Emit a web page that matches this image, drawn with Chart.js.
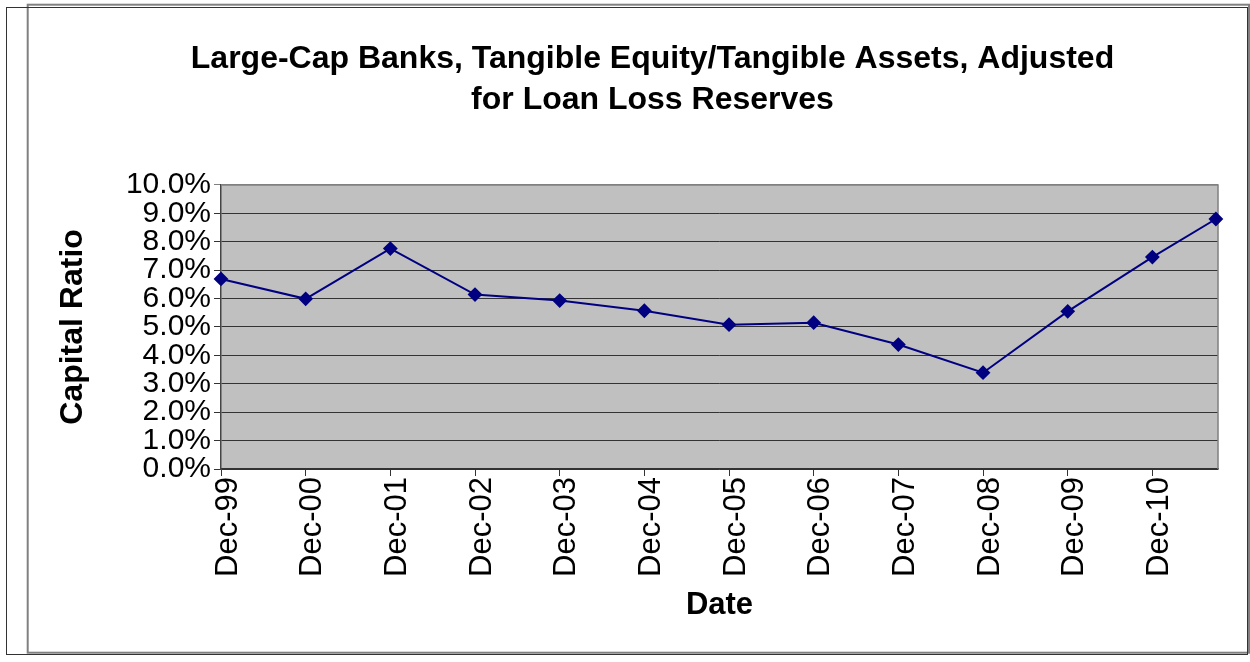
<!DOCTYPE html>
<html>
<head>
<meta charset="utf-8">
<script src="https://cdn.jsdelivr.net/npm/chart.js@4/dist/chart.umd.min.js"></script>
<style>
  html, body { margin: 0; padding: 0; background: #ffffff; }
  #c { display: block; }
</style>
</head>
<body>
<canvas id="c" width="1250" height="662"></canvas>
<script>
// ---- data ----
const chartTitle = ['Large-Cap Banks, Tangible Equity/Tangible Assets, Adjusted', 'for Loan Loss Reserves'];
const xAxisTitle = 'Date';
const yAxisTitle = 'Capital Ratio';
const xTickLabels = ['Dec-99','Dec-00','Dec-01','Dec-02','Dec-03','Dec-04','Dec-05','Dec-06','Dec-07','Dec-08','Dec-09','Dec-10'];
const pointDates = ['1999-12','2000-12','2001-12','2002-12','2003-12','2004-12','2005-12','2006-12','2007-12','2008-12','2009-12','2010-12','2011-09'];
const capitalRatio = [6.69, 5.99, 7.76, 6.14, 5.93, 5.57, 5.08, 5.15, 4.38, 3.39, 5.55, 7.46, 8.80];

function monthIndex(s) { const p = s.split('-').map(Number); return p[0] * 12 + p[1]; }
const baseMonth = monthIndex(pointDates[0]);
const points = pointDates.map((d, i) => ({ x: monthIndex(d) - baseMonth, y: capitalRatio[i] }));

const FONT = "'Liberation Sans', Arial, Helvetica, sans-serif";

const decor = {
  id: 'decor',
  beforeDraw(chart) {
    const ctx = chart.ctx, a = chart.chartArea;
    ctx.save();
    ctx.strokeStyle = '#808080';
    ctx.lineWidth = 2;
    ctx.strokeRect(27.7, 4.7, 1249 - 27.7, 652.7 - 4.7);
    ctx.strokeStyle = '#333333';
    ctx.lineWidth = 1;
    ctx.strokeRect(6.5, 7.5, 1247.5 - 6.5, 654.5 - 7.5);
    ctx.fillStyle = '#c0c0c0';
    ctx.fillRect(a.left, a.top, a.right - a.left, a.bottom - a.top);
    ctx.restore();
  },
  beforeDatasetsDraw(chart) {
    const ctx = chart.ctx, a = chart.chartArea;
    ctx.save();
    ctx.strokeStyle = '#808080';
    ctx.lineWidth = 1.5;
    ctx.beginPath();
    ctx.moveTo(a.left, a.top);
    ctx.lineTo(a.right, a.top);
    ctx.lineTo(a.right, a.bottom);
    ctx.stroke();
    ctx.restore();
  }
};

new Chart(document.getElementById('c'), {
  type: 'line',
  data: {
    datasets: [{
      data: points,
      borderColor: '#000080',
      backgroundColor: '#000080',
      borderWidth: 2,
      pointStyle: 'rectRot',
      pointRadius: 6,
      pointBackgroundColor: '#000080',
      pointBorderColor: '#000080',
      tension: 0,
      clip: false
    }]
  },
  options: {
    responsive: false,
    animation: false,
    devicePixelRatio: 1,
    layout: { padding: { left: 55, right: 0, top: 0, bottom: 0 } },
    plugins: {
      legend: { display: false },
      tooltip: { enabled: false },
      title: {
        display: true,
        text: chartTitle,
        color: '#000',
        font: { family: FONT, size: 32, weight: 'bold', lineHeight: 1.28 },
        padding: { top: 38.4, bottom: 64.6 }
      }
    },
    scales: {
      x: {
        type: 'linear',
        min: 0,
        max: 141.3,
        afterFit(s) { s.height = 193; },
        afterBuildTicks(s) { s.ticks = s.ticks.filter(t => t.value % 12 === 0); },
        ticks: {
          stepSize: 12,
          autoSkip: false,
          minRotation: 90,
          maxRotation: 90,
          padding: 1,
          labelOffset: 7,
          color: '#000',
          font: { family: FONT, size: 31 },
          callback: (v) => xTickLabels[v / 12]
        },
        grid: { drawOnChartArea: false, drawTicks: true, tickLength: 7, color: '#333', lineWidth: 1 },
        border: { display: true, color: '#333', width: 1.5 },
        title: {
          display: true,
          text: xAxisTitle,
          color: '#000',
          font: { family: FONT, size: 31, weight: 'bold', lineHeight: 1.2 },
          padding: { top: 0, bottom: 38.4 }
        }
      },
      y: {
        min: 0,
        max: 10,
        afterFit(s) { s.width = 221 - 55; },
        ticks: {
          stepSize: 1,
          autoSkip: false,
          padding: 3,
          color: '#000',
          font: { family: FONT, size: 30 },
          callback: (v) => v.toFixed(1) + '%'
        },
        grid: {
          drawOnChartArea: true,
          drawTicks: true,
          tickLength: 7,
          lineWidth: 1,
          color: (c) => (c.tick && c.tick.value === 10) ? '#808080' : '#333'
        },
        border: { display: true, color: '#444', width: 1.5 },
        title: {
          display: true,
          text: yAxisTitle,
          color: '#000',
          font: { family: FONT, size: 32, weight: 'bold', lineHeight: 1.1 },
          padding: { top: 0.4, bottom: 0 }
        }
      },
      yRight: {
        position: 'right',
        display: true,
        min: 0,
        max: 10,
        afterFit(s) { s.width = 32; },
        ticks: { display: false },
        grid: { display: false, drawTicks: false },
        border: { display: false }
      }
    }
  },
  plugins: [decor]
});
</script>
</body>
</html>
